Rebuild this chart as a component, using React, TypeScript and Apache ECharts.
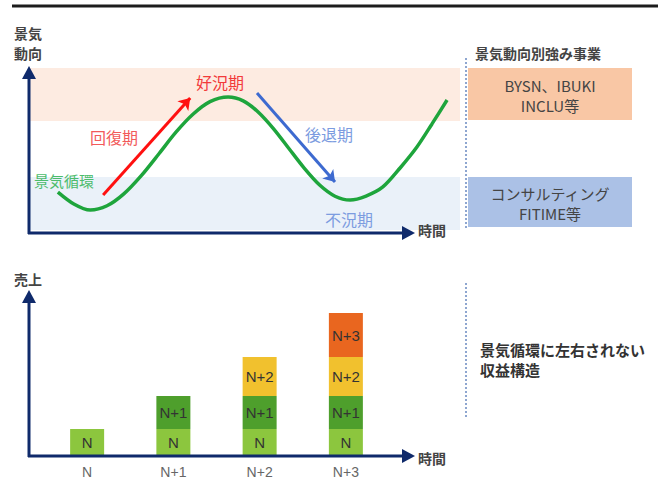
import React, { useEffect, useRef } from "react";
import * as echarts from "echarts";

// ---- data ----
// business-cycle curve (time, economic trend)
const cycleTime = [
  6.7, 10.4, 14.2, 18.1, 22.0, 26.0, 30.2, 34.1, 38.1, 42.0, 46.2, 49.7, 53.1,
  56.8, 60.3, 63.8, 67.5, 71.0, 74.5, 78.2, 82.1, 86.1, 90.0, 93.5, 97.0,
];
const cycleLevel = [
  24.8, 17.6, 13.9, 16.5, 23.7, 34.6, 48.2, 61.1, 72.1, 79.6, 82.4, 80.1, 73.5,
  63.0, 51.2, 39.5, 28.9, 22.3, 20.0, 22.4, 27.9, 39.4, 52.1, 66.1, 80.6,
];
// bands (economic level ranges)
const boomBand = [67.9, 100];
const slumpBand = [1.8, 33.9];
// phase arrows [[t0, l0], [t1, l1]]
const recoveryArrow = [[17.2, 23.0], [37.4, 81.8]];
const recessionArrow = [[52.9, 84.8], [71.0, 30.9]];

// stacked revenue bars
const years = ["N", "N+1", "N+2", "N+3"];
const segN = [26, 26, 26, 26];
const segN1: (number | string)[] = ["-", 33, 33, 33];
const segN2: (number | string)[] = ["-", "-", 39, 39];
const segN3: (number | string)[] = ["-", "-", "-", 44];

const FONT = "'Noto Sans CJK JP', 'Noto Sans', sans-serif";
const LATIN = "'Liberation Sans', Arial, sans-serif";

export default function App() {
  const ref = useRef<HTMLDivElement>(null);
  useEffect(() => {
    if (!ref.current) return;
    const chart = echarts.init(ref.current, null, { renderer: "svg" });
    const navy = "#0f2a6b";
    const segLabel = {
      show: true,
      position: "inside",
      formatter: "{a}",
      color: "#333",
      fontSize: 15,
      fontFamily: LATIN,
    };
    const txt = (x: number, y: number, text: string, opts: any = {}) => ({
      type: "text",
      x,
      y,
      z: 100,
      style: {
        text,
        fill: opts.fill || "#444",
        font: `${opts.weight || "bold"} ${opts.size || 14}px ${FONT}`,
        textAlign: opts.align || "left",
        textVerticalAlign: "middle",
      },
    });
    const option: any = {
      animation: false,
      backgroundColor: "#fff",
      grid: [
        { left: 29, top: 68, width: 431, height: 165 },
        { left: 44, top: 295, width: 345, height: 160 },
      ],
      xAxis: [
        { type: "value", gridIndex: 0, min: 0, max: 100, show: false },
        {
          type: "category",
          gridIndex: 1,
          data: years,
          axisLine: { show: false },
          axisTick: { show: false },
          axisLabel: { color: "#666", fontSize: 14, margin: 10, fontFamily: LATIN },
        },
      ],
      yAxis: [
        { type: "value", gridIndex: 0, min: 0, max: 100, show: false },
        { type: "value", gridIndex: 1, min: 0, max: 160, show: false },
      ],
      series: [
        {
          type: "line",
          xAxisIndex: 0,
          yAxisIndex: 0,
          data: cycleTime.map((t, i) => [t, cycleLevel[i]]),
          smooth: 0.3,
          symbol: "none",
          lineStyle: { color: "#1ea53c", width: 3.5 },
          z: 3,
          markArea: {
            silent: true,
            data: [
              [{ yAxis: boomBand[0], itemStyle: { color: "#fdebe1" } }, { yAxis: boomBand[1] }],
              [{ yAxis: slumpBand[0], itemStyle: { color: "#eaf1f9" } }, { yAxis: slumpBand[1] }],
            ],
          },
        },
        {
          type: "lines",
          coordinateSystem: "cartesian2d",
          xAxisIndex: 0,
          yAxisIndex: 0,
          symbol: ["none", "arrow"],
          symbolSize: 11,
          z: 4,
          data: [
            { coords: recoveryArrow, lineStyle: { color: "#ff1010", width: 3, opacity: 1 } },
            { coords: recessionArrow, lineStyle: { color: "#3d6ad0", width: 3, opacity: 1 } },
          ],
        },
        { type: "bar", name: "N", xAxisIndex: 1, yAxisIndex: 1, stack: "s", barWidth: 34, data: segN, itemStyle: { color: "#8cc63e" }, label: segLabel },
        { type: "bar", name: "N+1", xAxisIndex: 1, yAxisIndex: 1, stack: "s", barWidth: 34, data: segN1, itemStyle: { color: "#4e9f2c" }, label: segLabel },
        { type: "bar", name: "N+2", xAxisIndex: 1, yAxisIndex: 1, stack: "s", barWidth: 34, data: segN2, itemStyle: { color: "#f1c12e" }, label: segLabel },
        { type: "bar", name: "N+3", xAxisIndex: 1, yAxisIndex: 1, stack: "s", barWidth: 34, data: segN3, itemStyle: { color: "#e9661f" }, label: segLabel },
      ],
      graphic: [
        // top rule
        { type: "line", shape: { x1: 12, y1: 6, x2: 658, y2: 6 }, style: { stroke: "#1c1c1c", lineWidth: 3 } },
        // top axes
        { type: "line", z: 50, shape: { x1: 29, y1: 234, x2: 29, y2: 76 }, style: { stroke: navy, lineWidth: 3 } },
        { type: "polygon", z: 50, shape: { points: [[22, 79], [29, 66], [36, 79]] }, style: { fill: navy } },
        { type: "line", z: 50, shape: { x1: 28, y1: 233, x2: 404, y2: 233 }, style: { stroke: navy, lineWidth: 3 } },
        { type: "polygon", z: 50, shape: { points: [[402, 226], [415, 233], [402, 240]] }, style: { fill: navy } },
        // bottom axes
        { type: "line", z: 50, shape: { x1: 29, y1: 457, x2: 29, y2: 300 }, style: { stroke: navy, lineWidth: 3 } },
        { type: "polygon", z: 50, shape: { points: [[22, 303], [29, 290], [36, 303]] }, style: { fill: navy } },
        { type: "line", z: 50, shape: { x1: 28, y1: 456, x2: 404, y2: 456 }, style: { stroke: navy, lineWidth: 3 } },
        { type: "polygon", z: 50, shape: { points: [[402, 449], [415, 456], [402, 463]] }, style: { fill: navy } },
        // axis titles
        txt(14, 33, "景気"),
        txt(14, 53, "動向"),
        txt(418, 230, "時間"),
        txt(14, 279, "売上"),
        txt(418, 458, "時間"),
        // phase labels
        txt(220, 82, "好況期", { fill: "#f23a3a", size: 16, weight: "normal", align: "center" }),
        txt(114, 137, "回復期", { fill: "#f25a5a", size: 16, weight: "normal", align: "center" }),
        txt(329, 134, "後退期", { fill: "#7c9ce0", size: 16, weight: "normal", align: "center" }),
        txt(349, 219, "不況期", { fill: "#7c9ce0", size: 16, weight: "normal", align: "center" }),
        txt(64, 180, "景気循環", { fill: "#4cbc6c", size: 15, weight: "normal", align: "center" }),
        // right panel
        txt(475, 53, "景気動向別強み事業", { size: 14 }),
        { type: "line", shape: { x1: 466, y1: 58, x2: 466, y2: 228 }, style: { stroke: "#8ea6d0", lineWidth: 2, lineDash: [2, 2] } },
        { type: "rect", shape: { x: 468, y: 68, width: 164, height: 52 }, style: { fill: "#f9c7a5" } },
        txt(550, 85, "BYSN、IBUKI", { size: 15, weight: "normal", align: "center" }),
        txt(550, 105, "INCLU等", { size: 15, weight: "normal", align: "center" }),
        { type: "rect", shape: { x: 468, y: 177, width: 164, height: 50 }, style: { fill: "#abc1e6" } },
        txt(550, 193, "コンサルティング", { size: 15, weight: "normal", align: "center" }),
        txt(550, 213, "FITIME等", { size: 15, weight: "normal", align: "center" }),
        { type: "line", shape: { x1: 466, y1: 283, x2: 466, y2: 418 }, style: { stroke: "#8ea6d0", lineWidth: 2, lineDash: [2, 2] } },
        txt(480, 349, "景気循環に左右されない", { size: 15, fill: "#333" }),
        txt(480, 369, "収益構造", { size: 15, fill: "#333" }),
      ],
    };
    chart.setOption(option);
    return () => chart.dispose();
  }, []);
  return (
    <div
      ref={ref}
      style={{ position: "fixed", left: 0, top: 0, width: 658, height: 481, background: "#fff" }}
    />
  );
}
